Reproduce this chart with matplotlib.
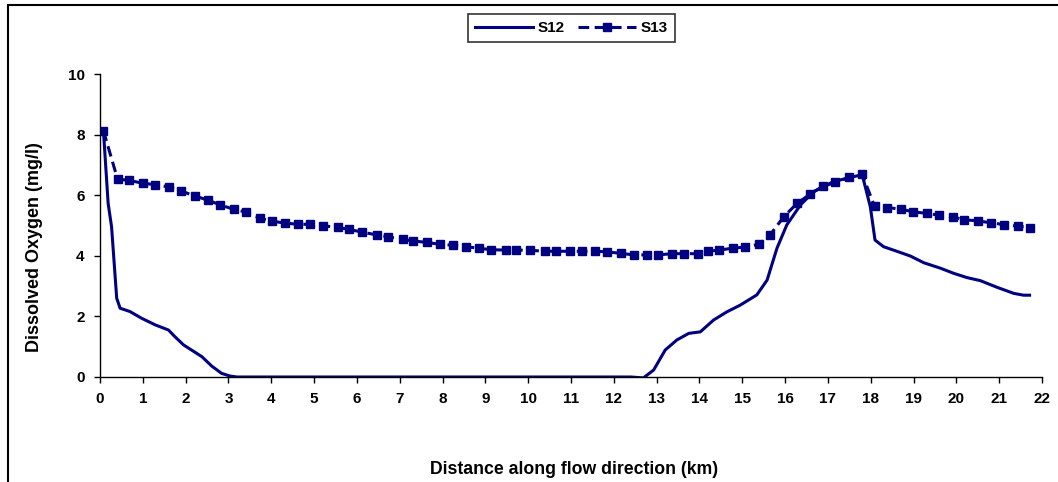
import matplotlib
matplotlib.use("Agg")
import matplotlib.pyplot as plt
from matplotlib.patches import Rectangle

plt.rcParams['font.family'] = ['Liberation Sans', 'DejaVu Sans']
plt.rcParams['font.weight'] = 'bold'

# Dissolved oxygen profile, scenario S12 (continuous line)
s12_km = [0.08, 0.19, 0.27, 0.39, 0.47, 0.70, 0.97, 1.29, 1.60, 1.75, 1.95, 2.38,
          2.61, 2.84, 3.04, 3.2, 5.0, 8.0, 10.0, 12.4, 12.69, 12.93, 13.2, 13.47,
          13.75, 14.02, 14.33, 14.64, 14.95, 15.34, 15.58, 15.81, 16.04, 16.36,
          16.67, 17.13, 17.6, 17.8, 17.99, 18.1, 18.3, 18.65, 18.93, 19.24, 19.63,
          19.94, 20.25, 20.56, 20.95, 21.34, 21.57, 21.71]
s12_do = [8.13, 5.73, 4.96, 2.6, 2.27, 2.16, 1.94, 1.72, 1.55, 1.33, 1.06, 0.67,
          0.36, 0.12, 0.03, 0.0, 0.0, 0.0, 0.0, 0.0, -0.03, 0.23, 0.89, 1.22,
          1.44, 1.49, 1.88, 2.15, 2.37, 2.71, 3.2, 4.25, 5.02, 5.68,
          6.12, 6.45, 6.61, 6.68, 5.62, 4.52, 4.3, 4.13, 3.99, 3.77, 3.59,
          3.42, 3.28, 3.18, 2.96, 2.76, 2.7, 2.7]

# Dissolved oxygen profile, scenario S13 (dashed line with markers)
s13_km = [0.08, 0.41, 0.68, 1.01, 1.29, 1.61, 1.89, 2.21, 2.53, 2.81, 3.13, 3.42,
          3.73, 4.02, 4.33, 4.62, 4.91, 5.20, 5.55, 5.82, 6.13, 6.46, 6.72, 7.07,
          7.32, 7.64, 7.94, 8.24, 8.54, 8.86, 9.13, 9.48, 9.72, 10.05, 10.40,
          10.65, 10.98, 11.25, 11.57, 11.84, 12.17, 12.46, 12.77, 13.04, 13.36,
          13.64, 13.97, 14.19, 14.46, 14.78, 15.07, 15.39, 15.65, 15.97, 16.28,
          16.59, 16.88, 17.17, 17.50, 17.80, 18.09, 18.39, 18.71, 18.99, 19.32,
          19.59, 19.91, 20.19, 20.51, 20.80, 21.11, 21.43, 21.71]
s13_do = [8.13, 6.53, 6.49, 6.39, 6.35, 6.27, 6.14, 5.98, 5.83, 5.68, 5.53, 5.44,
          5.24, 5.14, 5.08, 5.04, 5.04, 4.99, 4.94, 4.87, 4.78, 4.69, 4.63, 4.54,
          4.49, 4.44, 4.38, 4.35, 4.30, 4.25, 4.20, 4.19, 4.19, 4.18, 4.15,
          4.15, 4.15, 4.15, 4.15, 4.13, 4.08, 4.03, 4.03, 4.03, 4.07,
          4.07, 4.07, 4.15, 4.19, 4.25, 4.29, 4.38, 4.69, 5.29, 5.73,
          6.04, 6.29, 6.42, 6.59, 6.69, 5.63, 5.59, 5.54, 5.45, 5.40,
          5.34, 5.28, 5.19, 5.15, 5.09, 5.03, 4.98, 4.93]

x_ticks = list(range(0, 23))
y_ticks = [0, 2, 4, 6, 8, 10]

navy = '#000080'

fig = plt.figure(figsize=(10.58, 4.82), dpi=100)
W, H = 1058, 482

# outer chart frame
fig.patches.append(Rectangle((8 / W, -0.1), 1.2, 1 - 5 / H + 0.1,
                             transform=fig.transFigure, fill=False,
                             edgecolor='black', linewidth=1.5))

ax = fig.add_axes([100 / W, 1 - 377 / H, 942 / W, 303 / H])
ax.plot(s12_km, s12_do, color=navy, linewidth=2.2, label='S12')
ax.plot(s13_km, s13_do, color=navy, linewidth=2.2, linestyle=(0, (3.5, 1.8)),
        marker='s', markersize=5.2, label='S13')

ax.set_xlim(0, 22)
ax.set_ylim(0, 10)
ax.set_xticks(x_ticks)
ax.set_yticks(y_ticks)
ax.spines['top'].set_visible(False)
ax.spines['right'].set_visible(False)
for s in ('left', 'bottom'):
    ax.spines[s].set_linewidth(1.0)
ax.tick_params(direction='out', length=4, width=1, labelsize=11)
ax.tick_params(axis='x', pad=7)
ax.tick_params(axis='y', pad=7)
for lab in ax.get_xticklabels() + ax.get_yticklabels():
    lab.set_fontweight('bold')

fig.text(574 / W, 1 - 469 / H, 'Distance along flow direction (km)',
         fontsize=12.7, fontweight='bold', ha='center', va='center')
fig.text(35 / W, 1 - 247 / H, 'Dissolved Oxygen (mg/l)', rotation=90,
         fontsize=13, fontweight='bold', ha='center', va='center')

leg = ax.legend(loc='center', bbox_to_anchor=(571.5 / W, 1 - 28 / H),
                bbox_transform=fig.transFigure, ncol=2, frameon=True,
                fancybox=False, edgecolor='black', fontsize=11, handlelength=3.8,
                columnspacing=0.9, borderpad=0.45, handletextpad=0.3,
                borderaxespad=0)
leg.get_frame().set_linewidth(1.2)
for t in leg.get_texts():
    t.set_fontweight('bold')

fig.savefig('out.png', dpi=100)
